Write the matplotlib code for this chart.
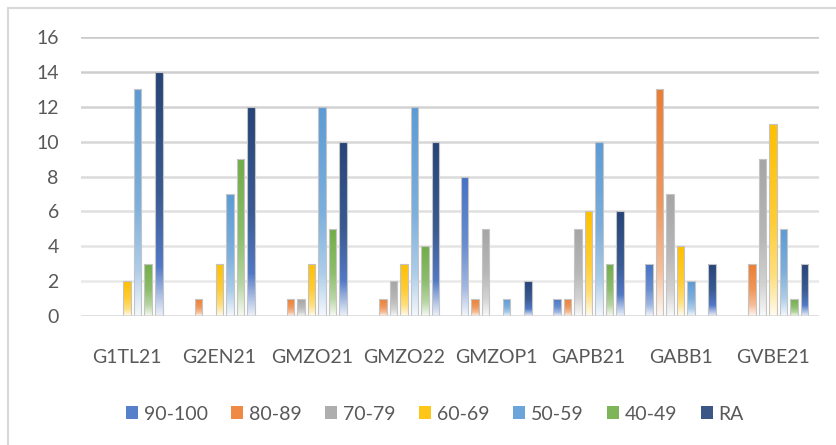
import numpy as np
import matplotlib
matplotlib.use('Agg')
import matplotlib.pyplot as plt
from matplotlib.colors import LinearSegmentedColormap, to_rgb
from matplotlib.patches import Patch, Rectangle
from matplotlib.lines import Line2D

plt.rcParams['font.family'] = ['Lato', 'DejaVu Sans']

categories = ['G1TL21', 'G2EN21', 'GMZO21', 'GMZO22', 'GMZOP1', 'GAPB21', 'GABB1', 'GVBE21']
series_names = ['90-100', '80-89', '70-79', '60-69', '50-59', '40-49', 'RA']
s_90_100 = [0, 0, 0, 0, 8, 1, 3, 0]
s_80_89 = [0, 1, 1, 1, 1, 1, 13, 3]
s_70_79 = [0, 0, 1, 2, 5, 5, 7, 9]
s_60_69 = [2, 3, 3, 3, 0, 6, 4, 11]
s_50_59 = [13, 7, 12, 12, 1, 10, 2, 5]
s_40_49 = [3, 9, 5, 4, 0, 3, 0, 1]
s_ra = [14, 12, 10, 10, 2, 6, 3, 3]
series_values = [s_90_100, s_80_89, s_70_79, s_60_69, s_50_59, s_40_49, s_ra]
colors = ['#4472C4', '#ED7D31', '#A5A5A5', '#FFC000', '#5B9BD5', '#70AD47', '#264478']

text_color = '#595959'


def blend(c, amount):
    r, g, b = to_rgb(c)
    return (r + (1 - r) * amount, g + (1 - g) * amount, b + (1 - b) * amount)


def make_cmap(c, i):
    # top of bar -> full colour, bottom -> almost white
    if i == 6:
        stops = [(0.0, to_rgb(c)), (0.5, to_rgb('#3a5a92')),
                 (0.8, to_rgb('#5279c6')), (1.0, to_rgb('#eaf0fa'))]
    else:
        stops = [(0.0, to_rgb(c)), (0.5, blend(c, 0.2)),
                 (0.8, blend(c, 0.5)), (1.0, blend(c, 0.93))]
    return LinearSegmentedColormap.from_list('g%d' % i, stops)


fig = plt.figure(figsize=(8.36, 4.45), dpi=100)
ax = fig.add_axes([81 / 836, 1 - 316 / 445, (819 - 81) / 836, (316 - 37) / 445])

x = np.arange(len(categories))
pitch = 0.114
width = 0.083
grad = np.linspace(0, 1, 200).reshape(-1, 1)

for i, vals in enumerate(series_values):
    cmap = make_cmap(colors[i], i)
    offs = (i - 3) * pitch
    for xi, v in zip(x, vals):
        if v <= 0:
            continue
        x0 = xi + offs - width / 2
        rect = Rectangle((x0, 0), width, v, facecolor='none',
                         edgecolor='#c4c4c4', linewidth=0.8, zorder=4)
        ax.add_patch(rect)
        im = ax.imshow(grad, extent=[x0, x0 + width, 0, v], origin='upper',
                       aspect='auto', cmap=cmap, zorder=3, interpolation='bilinear')
        im.set_clip_path(rect)

ax.set_xlim(-0.5, len(categories) - 0.5)
ax.set_ylim(0, 16)
ax.set_aspect('auto')

# gridlines get lighter towards the bottom
yticks = np.arange(0, 17, 2)
for y in yticks[1:]:
    t = y / 16
    g = 0.93 - 0.14 * t
    ax.axhline(y, color=(g, g, g), linewidth=1.8, zorder=1)
ax.axhline(0, color='#d6d6d6', linewidth=1.8, zorder=5)

for s in ax.spines.values():
    s.set_visible(False)
ax.set_yticks(yticks)
ax.set_xticks(x)
ax.set_xticklabels(categories)
ax.tick_params(axis='both', length=0, labelsize=14, colors=text_color)
ax.tick_params(axis='y', pad=16)
ax.tick_params(axis='x', pad=24)

handles = [Patch(facecolor=blend(c, 0.1), edgecolor='none') for c in colors]
fig.legend(handles, series_names, loc='center', bbox_to_anchor=(435 / 836, 1 - 414 / 445),
           ncol=7, frameon=False, fontsize=14, handlelength=0.62, handleheight=0.62,
           handletextpad=0.3, columnspacing=1.2, labelcolor=text_color)

# chart area border (cropped on the right and bottom)
fig.add_artist(Line2D([8 / 836, 1], [1 - 8 / 445, 1 - 8 / 445], color='#d9d9d9', linewidth=1.5))
fig.add_artist(Line2D([8 / 836, 8 / 836], [0, 1 - 8 / 445], color='#d9d9d9', linewidth=1.5))

plt.savefig('out.png', dpi=100)
